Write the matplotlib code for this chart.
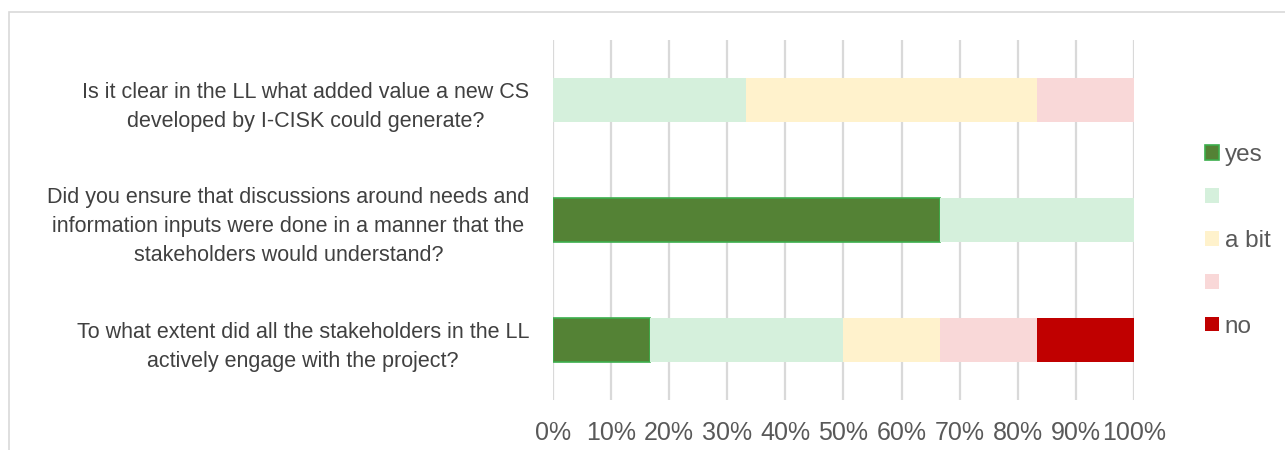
import matplotlib.pyplot as plt
from matplotlib.patches import Rectangle
import numpy as np

plt.rcParams['font.family'] = ['Liberation Sans', 'DejaVu Sans']

questions = [
    'Is it clear in the LL what added value a new CS\ndeveloped by I-CISK could generate?',
    'Did you ensure that discussions around needs and\ninformation inputs were done in a manner that the\nstakeholders would understand?',
    'To what extent did all the stakeholders in the LL\nactively engage with the project?',
]
series_names = ['yes', '', 'a bit', '', 'no']
yes = [0, 66.7, 16.7]
mostly = [33.3, 33.3, 33.3]
a_bit = [50.0, 0, 16.7]
little = [16.7, 0, 16.7]
no = [0, 0, 16.7]

colors = ['#548235', '#d5f0dc', '#fff2cc', '#f9d8d8', '#c00000']
edges = ['#3cae4c', 'none', 'none', 'none', 'none']

fig = plt.figure(figsize=(12.85, 4.5), dpi=100)
ax = fig.add_axes([0.4304, 0.111, 0.452, 0.8])

# chart frame
fig.patches.append(Rectangle((9 / 1285, -0.1), 1.2, 1 - 12 / 450 + 0.1,
                             transform=fig.transFigure, fill=False,
                             edgecolor='#d9d9d9', linewidth=1.2))

y = np.arange(len(questions))[::-1]
left = np.zeros(len(questions))
handles = []
for vals, c, ec in zip([yes, mostly, a_bit, little, no], colors, edges):
    vals = np.array(vals)
    b = ax.barh(y, vals, left=left, height=0.36, color=c,
                edgecolor=ec, linewidth=1.2 if ec != 'none' else 0, zorder=3)
    handles.append(b)
    left += vals

ax.set_xlim(0, 100)
ax.set_ylim(-0.5, 2.5)
ax.set_xticks(np.arange(0, 101, 10))
ax.set_xticklabels([f'{v}%' for v in range(0, 101, 10)])
ax.set_yticks(y)
ax.set_yticklabels(questions)
for t in ax.get_yticklabels():
    t.set_multialignment('center')
    t.set_fontsize(15.5)
    t.set_color('#404040')
    t.set_linespacing(1.5)
ax.tick_params(axis='x', labelsize=18, labelcolor='#595959', length=0, pad=15)
ax.tick_params(axis='y', length=0, pad=17)
ax.grid(axis='x', color='#d9d9d9', linewidth=1.6, zorder=0)
for s in ax.spines.values():
    s.set_visible(False)

fig.legend(handles, series_names, loc='upper left',
           bbox_to_anchor=(1193 / 1285, 1 - 132 / 450), frameon=False,
           fontsize=17.5, labelcolor='#595959', handlelength=0.55,
           handleheight=0.55, handletextpad=0.25, labelspacing=0.86,
           borderpad=0)

fig.savefig('out.png', dpi=100)
